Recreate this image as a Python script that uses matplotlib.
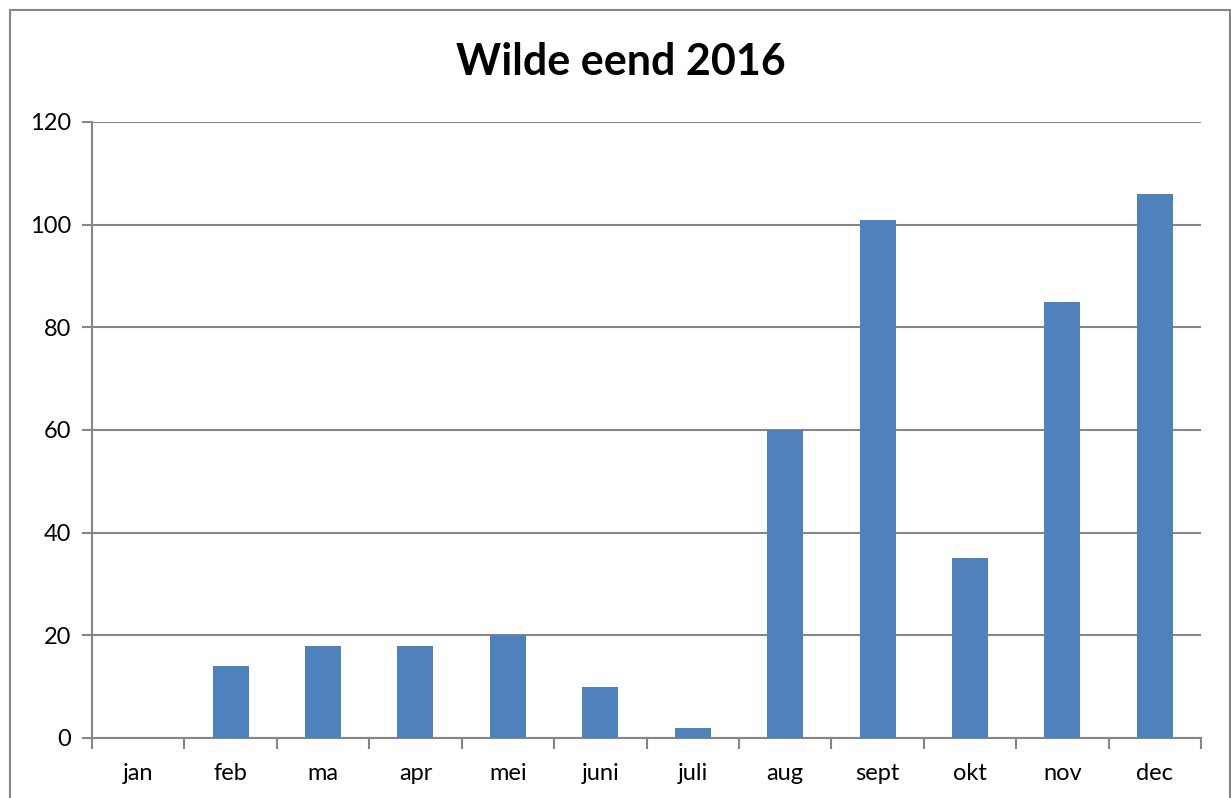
import matplotlib
matplotlib.use("Agg")
import matplotlib.pyplot as plt
from matplotlib.patches import Rectangle

months = ["jan", "feb", "ma", "apr", "mei", "juni", "juli", "aug", "sept", "okt", "nov", "dec"]
counts = [0, 14, 18, 18, 20, 10, 2, 60, 101, 35, 85, 106]
yticks = [0, 20, 40, 60, 80, 100, 120]
title = "Wilde eend 2016"

plt.rcParams['font.family'] = ['Lato', 'DejaVu Sans']

W, H = 1231, 798
fig = plt.figure(figsize=(W / 100, H / 100), dpi=100)
ax = fig.add_axes([92 / W, 1 - 738 / H, (1201 - 92) / W, (738 - 122) / H])

x = list(range(len(months)))
ax.bar(x, counts, width=0.39, color="#4f81bd", zorder=3)

ax.set_xlim(-0.5, len(months) - 0.5)
ax.set_ylim(0, 120)
ax.set_yticks(yticks)
ax.set_xticks(x)
ax.set_xticklabels(months)
ax.set_xticks([i - 0.5 for i in range(len(months) + 1)], minor=True)
ax.tick_params(axis='x', which='major', length=0, pad=18, labelsize=17)
ax.tick_params(axis='x', which='minor', length=8, width=1.5, color="#868686", direction='out')
ax.tick_params(axis='y', length=7, width=1.5, color="#868686", pad=8, labelsize=17)

ax.grid(axis='y', color="#868686", linewidth=1.5, zorder=0)
for s in ['top', 'right']:
    ax.spines[s].set_visible(False)
for s in ['left', 'bottom']:
    ax.spines[s].set_color("#868686")
    ax.spines[s].set_linewidth(1.5)

fig.text(621 / W, 1 - 62 / H, title, ha='center', va='center', fontsize=31, fontweight='bold')

fig.patches.append(Rectangle((10 / W, -0.1), (1230 - 10) / W, 1.1 - 10 / H,
                             transform=fig.transFigure, fill=False,
                             edgecolor="#868686", linewidth=1.5))

fig.savefig("out.png", dpi=100)
